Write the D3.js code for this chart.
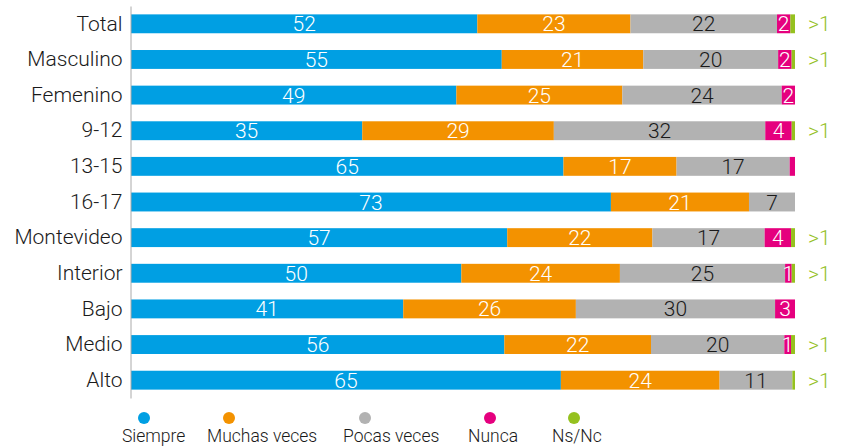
<!DOCTYPE html>
<html>
<head>
<meta charset="utf-8">
<script src="https://cdn.jsdelivr.net/npm/d3@7"></script>
<style>
  body { margin: 0; background: #fff; }
  svg text { font-family: Roboto, "Liberation Sans", sans-serif; font-weight: 300; }
</style>
</head>
<body>
<svg id="chart" width="845" height="447"></svg>
<script>
// categories (rows) and series
var categories = ['Total', 'Masculino', 'Femenino', '9-12', '13-15', '16-17', 'Montevideo', 'Interior', 'Bajo', 'Medio', 'Alto'];
var seriesNames = ['Siempre', 'Muchas veces', 'Pocas veces', 'Nunca', 'Ns/Nc'];
var seriesColors = ['#009fe3', '#f39200', '#b2b2b2', '#e5007e', '#95c11f'];

// values (Ns/Nc shown as ">1")
var siempre  = [52, 55, 49, 35, 65, 73, 57, 50, 41, 56, 65];
var muchas   = [23, 21, 25, 29, 17, 21, 22, 24, 26, 22, 24];
var pocas    = [22, 20, 24, 32, 17, 7, 17, 25, 30, 20, 11];
var nunca    = [2, 2, 2, 4, 0.8, 0, 4, 1, 3, 1, 0];
var nsnc     = [0.7, 0.5, 0, 0.5, 0, 0, 0.6, 0.5, 0, 0.6, 0.4];
// labels drawn inside segments ('' = no label)
var nuncaLabels = ['2', '2', '2', '4', '', '', '4', '1', '3', '1', ''];
var nsncLabels  = ['>1', '>1', '', '>1', '', '', '>1', '>1', '', '>1', '>1'];

var svg = d3.select('#chart');

var x = d3.scaleLinear().domain([0, 100]).range([131, 795]);
var y = d3.scaleBand().domain(categories).range([6, 398]).paddingInner(0.47).paddingOuter(0.235);

// build rows, normalised to 100 so every bar fills the width
var rows = categories.map(function (c, i) {
  var vals = [siempre[i], muchas[i], pocas[i], nunca[i], nsnc[i]];
  var sum = d3.sum(vals);
  var acc = 0;
  var segs = vals.map(function (v, k) {
    var s = { cat: c, k: k, v: v, x0: acc / sum * 100 };
    acc += v;
    s.x1 = acc / sum * 100;
    return s;
  });
  return { cat: c, i: i, segs: segs };
});

var row = svg.selectAll('.row')
  .data(rows)
  .enter().append('g')
  .attr('class', 'row');

row.selectAll('rect')
  .data(function (d) { return d.segs.filter(function (s) { return s.v > 0; }); })
  .enter().append('rect')
  .attr('x', function (s) { return x(s.x0); })
  .attr('width', function (s) { return x(s.x1) - x(s.x0); })
  .attr('y', function (s) { return y(s.cat); })
  .attr('height', y.bandwidth())
  .attr('fill', function (s) { return seriesColors[s.k]; });

// value labels inside segments
row.selectAll('text.val')
  .data(function (d) {
    return d.segs.filter(function (s) {
      if (s.k < 3) return true;
      if (s.k === 3) return nuncaLabels[d.i] !== '';
      return false;
    }).map(function (s) { s.label = s.k === 3 ? nuncaLabels[d.i] : String(s.v); return s; });
  })
  .enter().append('text')
  .attr('class', 'val')
  .attr('x', function (s) { return (x(s.x0) + x(s.x1)) / 2; })
  .attr('y', function (s) { return y(s.cat) + y.bandwidth() / 2; })
  .attr('dy', '0.36em')
  .attr('text-anchor', 'middle')
  .style('font-size', '21px')
  .attr('fill', function (s) { return s.k === 2 ? '#1a1a1a' : '#fff'; })
  .text(function (s) { return s.label; });

// ">1" labels to the right
svg.selectAll('text.ns')
  .data(rows.filter(function (d) { return nsncLabels[d.i] !== ''; }))
  .enter().append('text')
  .attr('class', 'ns')
  .attr('x', 808)
  .attr('y', function (d) { return y(d.cat) + y.bandwidth() / 2; })
  .attr('dy', '0.36em')
  .style('font-size', '21px')
  .attr('fill', '#95c11f')
  .text(function (d) { return nsncLabels[d.i]; });

// category axis
var axis = svg.append('g')
  .attr('transform', 'translate(130.5,0)')
  .call(d3.axisLeft(y).tickSizeInner(0).tickSizeOuter(0).tickPadding(8));
axis.select('.domain').attr('stroke', '#aaa');
axis.selectAll('text')
  .style('font-size', '21px')
  .style('font-family', 'Roboto, "Liberation Sans", sans-serif')
  .attr('fill', '#1a1a1a');

// legend
var legendX = [122, 207, 343, 468, 552];
var legend = svg.selectAll('.legend')
  .data(seriesNames)
  .enter().append('g')
  .attr('class', 'legend')
  .attr('transform', function (d, i) { return 'translate(' + legendX[i] + ',0)'; });

legend.append('circle')
  .attr('cx', 22)
  .attr('cy', 418)
  .attr('r', 6)
  .attr('fill', function (d, i) { return seriesColors[i]; });

legend.append('text')
  .attr('x', 0)
  .attr('y', 442)
  .style('font-size', '17.5px')
  .attr('fill', '#1a1a1a')
  .text(function (d) { return d; });
</script>
</body>
</html>
